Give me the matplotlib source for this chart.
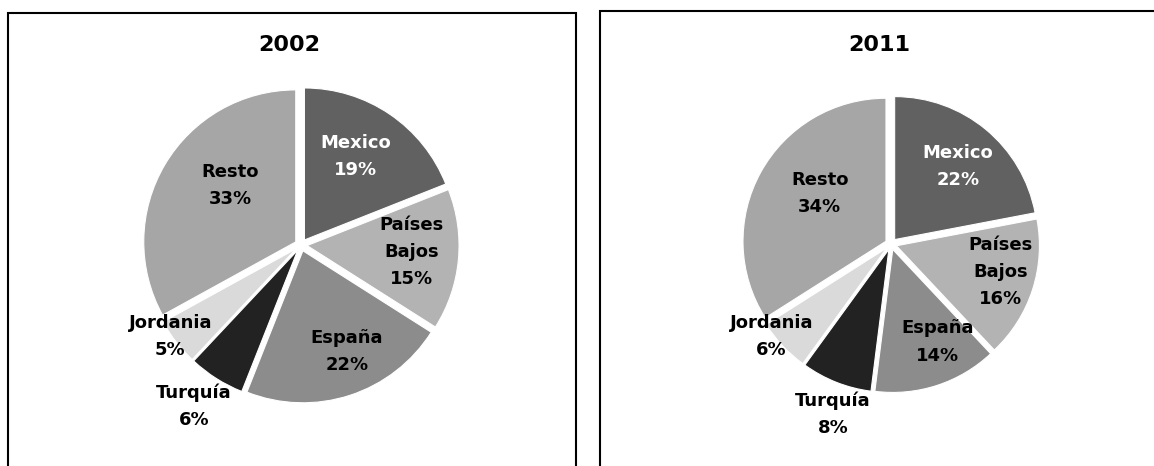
import numpy as np
import matplotlib
matplotlib.use("Agg")
import matplotlib.pyplot as plt
from matplotlib.lines import Line2D

plt.rcParams['font.family'] = ['DejaVu Sans']

# ---- data ----
categories = ["Mexico", "Países\nBajos", "España", "Turquía", "Jordania", "Resto"]
values_2002 = [19, 15, 22, 6, 5, 33]
values_2011 = [22, 16, 14, 8, 6, 34]
years = ["2002", "2011"]

colors = ["#616161", "#b3b3b3", "#8c8c8c", "#222222", "#dadada", "#a6a6a6"]
text_colors = ["white", "black", "black", "black", "black", "black"]

W, H = 1154, 466
fig = plt.figure(figsize=(W / 100, H / 100), dpi=100)


def fx(x):
    return x / W


def fy(y):
    return 1 - y / H


def border(xs, ys):
    fig.add_artist(Line2D([fx(x) for x in xs], [fy(y) for y in ys],
                          transform=fig.transFigure, color="black",
                          linewidth=1.5, solid_joinstyle="miter"))


# panel borders (bottom edge cut off; right panel's right edge off-canvas)
border([8, 8, 576, 576], [470, 13, 13, 470])
border([600, 600, 1160], [470, 11, 11])

# per-panel layout: center px, radius px, title x, label radial dist, label angle tweak
layouts = [
    dict(cx=301, cy=245, R=152, tx=289,
         dist=[0.684, 0.73, 0.765, 1.275, 1.05, 0.61],
         dang=[2.4, 1.9, 5.2, -1.1, -2.8, -9.6]),
    dict(cx=891, cy=244, R=143, tx=879,
         dist=[0.715, 0.79, 0.76, 1.256, 1.06, 0.61],
         dang=[-1.4, 3.7, 7.6, 2.8, -5.4, -6.4]),
]

for year, vals, lay in zip(years, [values_2002, values_2011], layouts):
    S = 420  # axes size in px
    ax = fig.add_axes([fx(lay["cx"] - S / 2), fy(lay["cy"] + S / 2), S / W, S / H])
    wedges, _ = ax.pie(vals, colors=colors, startangle=90, counterclock=False,
                       explode=[0.04] * len(vals),
                       wedgeprops=dict(edgecolor="white", linewidth=0.8))
    L = (S / 2) / lay["R"]
    ax.set_xlim(-L, L)
    ax.set_ylim(-L, L)
    ax.set_aspect("equal")
    ax.axis("off")
    for i, (w, v) in enumerate(zip(wedges, vals)):
        ang = np.deg2rad((w.theta1 + w.theta2) / 2 + lay["dang"][i])
        d = lay["dist"][i]
        ax.text(d * np.cos(ang), d * np.sin(ang), f"{categories[i]}\n{v}%",
                ha="center", va="center", fontsize=13, fontweight="bold",
                color=text_colors[i], linespacing=1.65, clip_on=False)
    fig.text(fx(lay["tx"]), fy(45), year, ha="center", va="center",
             fontsize=16, fontweight="bold")

fig.savefig("out.png", dpi=100, facecolor="white")
